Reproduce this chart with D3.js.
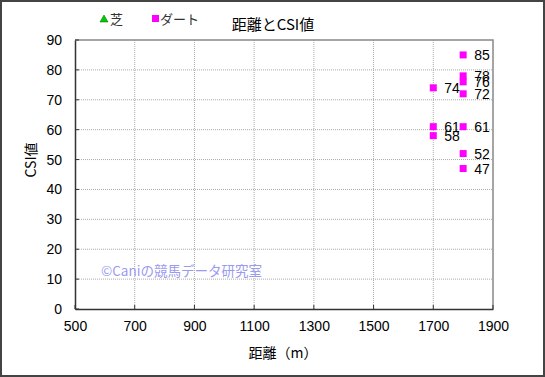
<!DOCTYPE html>
<html><head><meta charset="utf-8">
<script src="https://cdn.jsdelivr.net/npm/d3@7"></script>
<style>body{margin:0;background:#fff}svg{display:block;font-family:"Noto Sans CJK JP","Liberation Sans",sans-serif}</style>
</head><body><svg id="c" width="545" height="377"></svg>
<script>
const xTicks=[500,700,900,1100,1300,1500,1700,1900];
const yTicks=[0,10,20,30,40,50,60,70,80,90];
const dartDist=[1700,1700,1700,1800,1800,1800,1800,1800,1800,1800];
const dartCSI=[74,61,58,85,78,76,72,61,52,47];
const turfDist=[];
const turfCSI=[];
const title="距離とCSI値", xLabel="距離（m）", yLabel="CSI値";
const legendNames=["芝","ダート"];

const svg=d3.select("#c");
const L=75,R=493,T=40,B=309;
const x=d3.scaleLinear().domain([500,1900]).range([L,R]);
const y=d3.scaleLinear().domain([0,90]).range([B,T]);

svg.append("rect").attr("x",1).attr("y",1).attr("width",543).attr("height",375).attr("fill","#fff").attr("stroke","#444").attr("stroke-width",2);

// grid
svg.append("g").selectAll("line").data(xTicks.slice(1,-1)).join("line")
 .attr("x1",d=>x(d)).attr("x2",d=>x(d)).attr("y1",T).attr("y2",B)
 .attr("stroke","#aaa").attr("stroke-dasharray","1,1");
svg.append("g").selectAll("line").data(yTicks.slice(1,-1)).join("line")
 .attr("x1",L).attr("x2",R).attr("y1",d=>y(d)).attr("y2",d=>y(d))
 .attr("stroke","#aaa").attr("stroke-dasharray","1,1");
// frame
svg.append("path").attr("d",`M${L},${T}H${R}V${B}`).attr("fill","none").attr("stroke","#888").attr("stroke-width",1.5);

const xa=svg.append("g").attr("transform",`translate(0,${B})`).call(d3.axisBottom(x).tickValues(xTicks).tickSize(0).tickPadding(12).tickFormat(d3.format("d")));
xa.select(".domain").attr("stroke","#333").attr("stroke-width",1.5);
xa.selectAll("text").attr("font-size",14).attr("fill","#000").attr("font-family","Liberation Sans, sans-serif");
const ya=svg.append("g").attr("transform",`translate(${L},0)`).call(d3.axisLeft(y).tickValues(yTicks).tickSize(0).tickPadding(13).tickFormat(d3.format("d")));
ya.select(".domain").attr("stroke","#333").attr("stroke-width",1.5);
ya.selectAll("text").attr("font-size",14).attr("fill","#000").attr("font-family","Liberation Sans, sans-serif");
svg.append("g").selectAll("line").data(yTicks).join("line").attr("x1",L).attr("x2",L+4).attr("y1",d=>y(d)).attr("y2",d=>y(d)).attr("stroke","#333");
svg.append("g").selectAll("line").data(xTicks).join("line").attr("x1",d=>x(d)).attr("x2",d=>x(d)).attr("y1",B).attr("y2",B-4).attr("stroke","#333");

// data
const pts=dartDist.map((d,i)=>({d,v:dartCSI[i]}));
svg.append("g").selectAll("rect").data(pts).join("rect")
 .attr("x",p=>x(p.d)-3.5).attr("y",p=>y(p.v)-3.5).attr("width",7).attr("height",7).attr("fill","#ff00ff");
svg.append("g").selectAll("text").data(pts).join("text")
 .attr("x",p=>x(p.d)+11).attr("y",p=>y(p.v)+5).attr("font-size",14).attr("font-family","Liberation Sans, sans-serif").text(p=>p.v);
svg.append("g").selectAll("path").data(turfDist.map((d,i)=>({d,v:turfCSI[i]}))).join("path")
 .attr("d",d3.symbol(d3.symbolTriangle,40)).attr("transform",p=>`translate(${x(p.d)},${y(p.v)})`).attr("fill","#00cc00");

// title, legend
svg.append("text").attr("x",273).attr("y",30).attr("text-anchor","middle").attr("font-size",15).text(title);
svg.append("path").attr("d","M104,15L108,22H100Z").attr("fill","#00cc00").attr("stroke","#006600").attr("stroke-width",0.5);
svg.append("text").attr("x",110).attr("y",24).attr("font-size",13).attr("fill","#333").text(legendNames[0]);
svg.append("rect").attr("x",152).attr("y",15).attr("width",7).attr("height",7).attr("fill","#ff00ff");
svg.append("text").attr("x",160).attr("y",24).attr("font-size",13).attr("fill","#333").text(legendNames[1]);

svg.append("text").attr("x",283).attr("y",358).attr("text-anchor","middle").attr("font-size",14).text(xLabel);
svg.append("text").attr("transform","translate(36,160) rotate(-90)").attr("text-anchor","middle").attr("font-size",14).text(yLabel);

svg.append("text").attr("x",101).attr("y",276).attr("font-size",13.5).attr("fill","#9a9af0").text("©Caniの競馬データ研究室");
</script></body></html>
